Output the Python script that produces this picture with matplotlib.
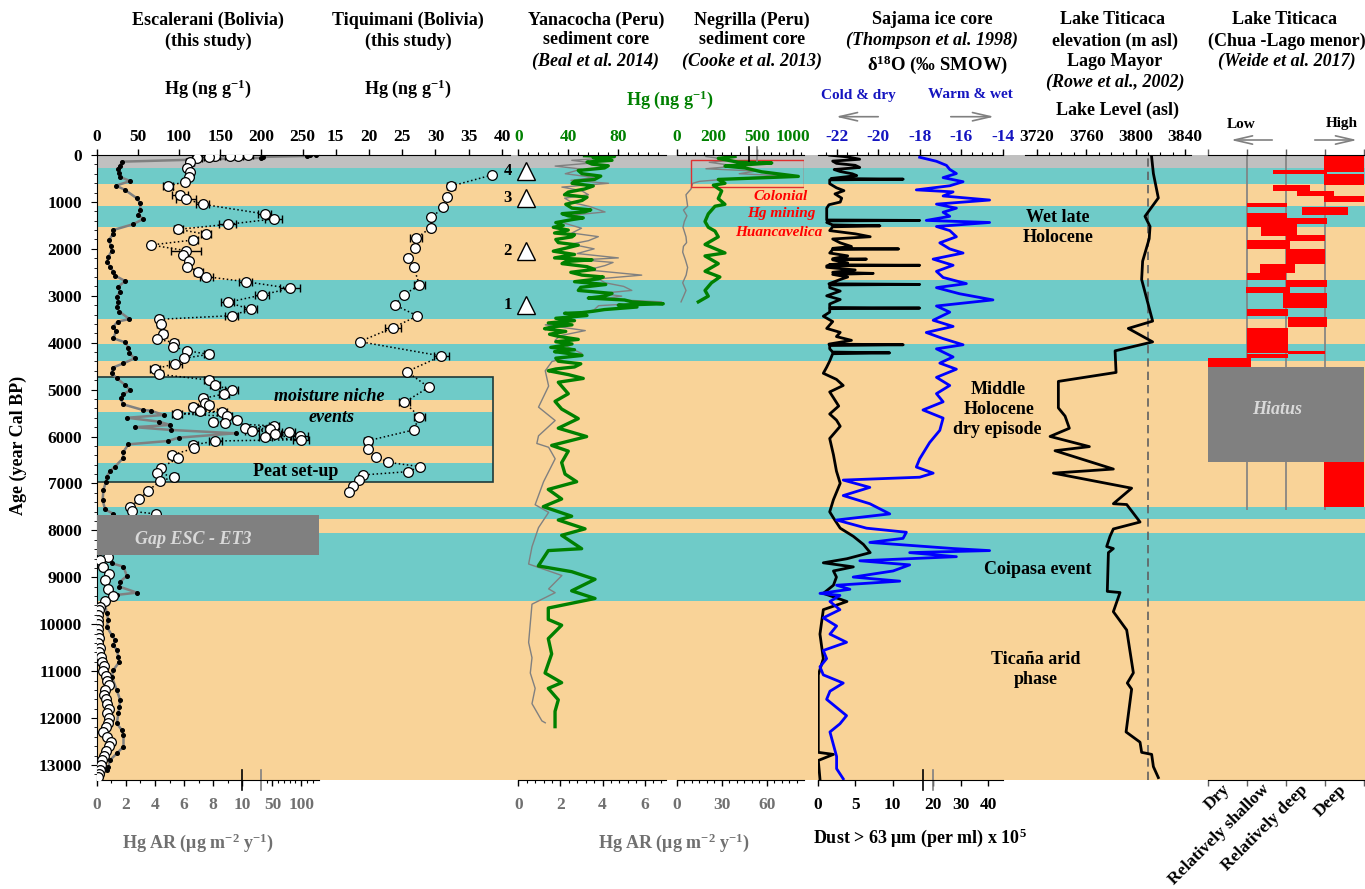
import matplotlib
matplotlib.use('Agg')
import matplotlib.pyplot as plt
import numpy as np
from matplotlib.patches import Rectangle, FancyArrowPatch
from matplotlib.ticker import MultipleLocator, FixedLocator

plt.rcParams['font.family'] = ['Liberation Serif', 'DejaVu Serif']
plt.rcParams['font.weight'] = 'bold'
plt.rcParams['mathtext.fontset'] = 'custom'
plt.rcParams['mathtext.rm'] = 'Liberation Serif:bold'
plt.rcParams['mathtext.it'] = 'Liberation Serif:bold:italic'
plt.rcParams['mathtext.bf'] = 'Liberation Serif:bold'
plt.rcParams['axes.unicode_minus'] = False

# ---------------- data ----------------
# background climate bands (cal BP)
gray_band = (0, 280)
teal_start = [280, 1090, 2660, 4030, 7500, 8060]
teal_end = [620, 1530, 3500, 4390, 7760, 9510]
box_top, box_bot = 4730, 6976
box_teal_start = [4730, 5484, 6558]
box_teal_end = [5220, 6202, 6976]
gap_top, gap_bot = 7670, 8525

# Escalerani Hg concentration (ng/g)
esc_age = [10, 16, 16, 16, 36, 71, 142, 270, 355, 462, 568, 661, 852, 938, 1051, 1257, 1364, 1477, 1584, 1690,
           1811, 1918, 2039, 2131, 2259, 2380, 2486, 2593, 2700, 2841, 2983, 3140, 3289, 3424, 3502, 3609, 3808,
           3921, 4000, 4085, 4170, 4248, 4333, 4447, 4560, 4674, 4795, 4908, 5008, 5093, 5185, 5278, 5320, 5363,
           5449, 5477, 5512, 5569, 5654, 5697, 5718, 5775, 5811, 5839, 5882, 5910, 5953, 5981, 6017, 6067, 6095,
           6180, 6251, 6393, 6464, 6663, 6770, 6862, 6947, 7153, 7338, 7508, 7593, 7650]
esc_hg = [184, 172, 162, 144, 136, 122, 113.5, 109.5, 113.5, 111.5, 107.4, 87, 101, 108.6, 129, 204, 215, 159,
          99.3, 133, 117.5, 66, 108.6, 104.6, 111.5, 110.2, 123.6, 133, 181, 235, 200.7, 159, 187, 164, 76.2, 77.8,
          81, 73, 94.4, 93.2, 109.5, 135.8, 106.6, 95.3, 71, 76.2, 135.8, 143.9, 164, 154.9, 129.7, 131.8, 135.8,
          117.5, 125.7, 152, 97.3, 158, 170, 141.8, 156, 215, 180.4, 210.8, 188.6, 233, 216, 246.5, 204.7, 248,
          143.9, 117.5, 118.3, 91.2, 98.5, 78.2, 73.7, 94.4, 77, 62.8, 51.8, 40.5, 42.6, 72.1]
esc_err = [6, 6, 6, 6, 6, 6, 5, 0, 0, 0, 0, 6, 10, 12, 8, 8, 10, 10, 6, 6, 6, 0, 18, 0, 0, 0, 6, 8, 8, 12,
           8, 8, 8, 8, 4, 4, 4, 0, 4, 0, 0, 6, 0, 8, 6, 4, 6, 6, 8, 6, 4, 4, 6, 6, 6, 6, 6, 6, 4, 4,
           4, 6, 4, 6, 8, 8, 8, 10, 8, 10, 8, 6, 4, 4, 4, 4, 4, 4, 4, 0, 0, 0, 0, 4]
esc_age2 = [8574, 8631, 8773, 8929, 9057, 9256, 9398, 9497, 9625, 9700, 9800, 9900, 10000, 10100, 10200, 10300,
            10400, 10500, 10600, 10700, 10800, 10900, 11000, 11100, 11200, 11300, 11400, 11500, 11600, 11700,
            11800, 11900, 12000, 12100, 12200, 12300, 12400, 12500, 12600, 12700, 12800, 12900, 13000, 13100,
            13200, 13250]
esc_hg2 = [14.1, 4, 8, 15.3, 10.1, 14.1, 20.2, 10.1, 4, 3, 2, 1.5, 1, 1.5, 2, 3, 2, 4, 2.5, 5, 7, 9, 8, 11, 13,
           15, 10, 9, 11, 13, 15, 13, 15, 14, 11, 8, 13, 17, 15, 11, 9, 7, 5, 4, 3, 2]

# Escalerani Hg accumulation rate (ug m-2 y-1)
ar_age1 = [0, 10, 20, 40, 60, 142, 227, 298, 383, 469, 554, 653, 745, 923, 1030, 1172, 1279, 1364, 1477, 1598,
           1690, 1811, 1932, 2046, 2166, 2273, 2380, 2486, 2571, 2685, 2806, 2912, 3018, 3125, 3232, 3338, 3495,
           3552, 3658, 3751, 3907, 3992, 4106, 4227, 4333, 4440, 4532, 4653, 4759, 4901, 5008, 5100, 5185, 5313,
           5434, 5450, 5540, 5600, 5682, 5753, 5800, 5860, 5931, 6024, 6095, 6166, 6322, 6464, 6642, 6734, 6855,
           6962, 7139, 7352, 7551, 7650]
ar_val1 = [126, 115, 110, 34, 30, 1.72, 1.61, 1.45, 1.54, 1.61, 2.3, 1.33, 1.95, 2.76, 2.99, 2.99, 2.87, 3.2,
           2.48, 1.15, 1.1, 0.85, 0.96, 1.03, 0.8, 0.73, 0.92, 1.15, 1.26, 1.95, 1.49, 1.61, 1.38, 1.49, 1.38,
           1.56, 2.25, 1.43, 1.15, 1.33, 1.15, 1.95, 2.18, 2.25, 2.6, 1.84, 1.1, 1.03, 1.38, 1.95, 2.3, 1.84,
           1.66, 1.8, 3.17, 3.72, 4.6, 2.1, 4.25, 5.06, 2.6, 5.1, 9.54, 5.63, 4.9, 2.18, 1.84, 1.8, 1.26, 0.92,
           0.69, 0.64, 0.46, 0.41, 0.57, 1.15]
ar_age2 = [8702, 8773, 8972, 9092, 9199, 9327, 9376, 9554, 9767, 9909, 10051, 10229, 10336, 10443, 10549, 10691,
           10798, 10976, 11118, 11402, 11615, 11757, 11900, 12113, 12255, 12362, 12610, 12753, 12895, 13037, 13108]
ar_val2 = [1.03, 1.84, 2.07, 1.61, 1.56, 2.76, 1.38, 0.57, 0.69, 0.8, 0.69, 1.03, 1.26, 1.15, 1.38, 1.49, 1.56,
           1.15, 1.03, 1.38, 1.61, 1.56, 1.49, 1.38, 1.72, 1.84, 1.84, 1.38, 0.92, 0.8, 0.69]

# Tiquimani Hg (ng/g)
tiq_age = [426, 661, 895, 1117, 1330, 1549, 1776, 1975, 2188, 2380, 2770, 2983, 3196, 3430, 3680, 3978, 4284,
           4617, 4951, 5271, 5576, 5860, 6088, 6273, 6429, 6550, 6642, 6748, 6820, 6926, 7054, 7175]
tiq_hg = [38.5, 32.4, 31.7, 31.2, 29.4, 29.3, 27.1, 26.9, 25.9, 26.7, 27.6, 25.2, 23.9, 27.3, 23.6, 18.6, 30.9,
          25.7, 29.0, 25.3, 27.6, 26.7, 19.9, 19.9, 21.1, 22.9, 27.7, 25.9, 19.05, 18.5, 17.55, 17.0]
tiq_err = [0, 0.6, 0, 0, 0, 0, 0.9, 0.4, 0, 0.3, 0.8, 0, 0, 0, 1.2, 0.3, 1.1, 0, 0, 0.8, 0.8, 0, 0.6, 0, 0, 0,
           0, 0.4, 0.3, 0, 0, 0]

# events 1-4
event_age = [3200, 2050, 910, 340]
event_lab = ['1', '2', '3', '4']

# Yanacocha (Beal et al. 2014)
yan_age = [15, 32, 60, 113, 150, 195, 230, 276, 330, 399,
           450, 521, 560, 603, 660, 725, 790, 847, 900, 969,
           1050, 1133, 1170, 1214, 1250, 1296, 1340, 1377, 1440, 1500,
           1540, 1600, 1663, 1700, 1744, 1800, 1867, 1920, 1973, 2050,
           2120, 2193, 2234, 2270, 2315, 2380, 2437, 2500, 2560, 2600,
           2641, 2700, 2760, 2820, 2886, 2950, 3008, 3049, 3090, 3130,
           3170, 3200, 3240, 3294, 3330, 3359, 3375, 3420, 3480, 3530,
           3579, 3620, 3660, 3701, 3760, 3820, 3865, 3930, 3980, 4028,
           4100, 4150, 4191, 4230, 4272, 4330, 4395, 4450, 4517, 4560,
           4598, 4680, 4762, 4843, 5088, 5251, 5414, 5618, 5822, 6001,
           6189, 6311, 6556, 6800, 6963, 7127, 7331, 7494, 7698, 7779,
           7967, 8105, 8390, 8431, 8758, 8880, 9043, 9288, 9451, 9655,
           9899, 10021, 10307, 10633, 11040, 11245, 11367, 11612, 11857, 12183]
yan_hg = [53, 77, 60, 75, 55, 59, 72, 69, 48, 51,
          66, 61, 45, 43, 60, 53, 40, 37, 55, 51,
          38, 43, 58, 53, 35, 40, 52, 43, 30, 36,
          28, 40, 29, 45, 43, 30, 32, 48, 40, 28,
          45, 29, 59, 38, 35, 55, 61, 42, 51, 68,
          64, 45, 70, 50, 48, 75, 69, 56, 85, 91,
          116, 80, 95, 69, 60, 51, 37, 55, 30, 45,
          24, 43, 28, 21, 38, 25, 32, 48, 30, 43,
          26, 45, 29, 40, 51, 30, 32, 50, 45, 30,
          24, 40, 52, 32, 40, 29.4, 34.7, 48, 32, 54.7,
          26.7, 40, 34.7, 37.4, 46.7, 24, 34.7, 20, 42.7, 32,
          53.4, 34.7, 50.7, 24, 16, 42.7, 61.4, 42.7, 61.4, 24,
          24, 34.7, 24, 26.7, 21.4, 34.7, 24, 32, 29.4, 29.4]
yan_ar_age = [72, 113, 170, 236, 300, 399, 480, 540, 603, 684,
              760, 847, 920, 1010, 1100, 1214, 1280, 1336, 1400, 1459,
              1560, 1663, 1740, 1826, 1900, 2000, 2100, 2193, 2234, 2290,
              2356, 2450, 2560, 2640, 2723, 2800, 2886, 2950, 3008, 3070,
              3130, 3212, 3300, 3375, 3450, 3540, 3620, 3742, 3850, 3946,
              4100, 4231, 4400, 4598, 4925, 5373, 5659, 5985, 6148, 6229,
              6474, 6963, 7453, 7616, 7942, 8350, 8717, 8962, 9247, 9328,
              9573, 9981, 10389, 10715, 11040, 11367, 11693, 12060, 12101]
yan_ar = [3.96, 2.54, 3.5, 1.75, 3.0, 2.23, 3.6, 2.5, 4.28, 2.07,
          3.0, 3.33, 2.2, 2.54, 3.4, 4.12, 2.6, 3.02, 2.1, 2.23,
          3.0, 2.54, 3.8, 3.33, 2.5, 3.6, 2.8, 4.75, 3.02, 4.5,
          4.12, 3.3, 5.86, 3.8, 4.12, 5.0, 5.39, 3.9, 4.91, 4.0,
          6.81, 3.81, 3.6, 3.02, 2.2, 2.6, 1.28, 3.18, 2.0, 1.75,
          2.4, 3.02, 1.6, 1.28, 1.44, 0.96, 1.75, 0.96, 0.88, 1.44,
          1.75, 1.2, 0.8, 1.44, 0.96, 0.65, 0.49, 2.07, 1.44, 1.75,
          0.65, 0.57, 0.49, 0.65, 0.57, 0.8, 0.65, 1.12, 1.28]

# Negrilla (Cooke et al. 2013)
neg_age = [32, 72, 154, 170, 236, 276, 358, 456, 521, 603, 643, 766, 929, 1051, 1092, 1255, 1418, 1540, 1622,
           1744, 1907, 2087, 2152, 2315, 2478, 2600, 2723, 2886, 3008, 3130]
neg_hg = [321, 229, 339, 705, 266, 376, 568, 1068, 229, 266, 202, 248, 229, 266, 211, 174, 156, 174, 211, 229,
          156, 266, 156, 229, 156, 238, 192, 156, 174, 119]
neg_ar_age = [32, 113, 154, 236, 293, 342, 399, 439, 521, 562, 603, 725, 847, 1092, 1173, 1296, 1418, 1540, 1744,
              1867, 1947, 2070, 2234, 2397, 2560, 2723, 2886, 3008, 3130]
neg_ar = [19.5, 37.3, 21.7, 39.5, 19.5, 52.9, 41.7, 68.4, 30.7, 15.1, 10.7, 9.5, 6.2, 7.3, 4.5, 6.8, 5.1, 4.2,
          6.2, 6.6, 4.5, 4.0, 5.8, 7.3, 6.3, 4.0, 6.2, 4.6, 2.9]
colonial_box = (113, 682)

# Sajama ice core (Thompson et al. 1998)
dust_age = [4, 40, 91, 130, 178, 220, 265, 310, 352, 400,
            439, 500, 515, 530, 612, 699, 760, 829, 920, 1003,
            1060, 1133, 1264, 1385, 1394, 1405, 1438, 1490, 1510, 1530,
            1611, 1680, 1742, 1790, 1872, 1950, 1990, 2002, 2015, 2089,
            2150, 2210, 2219, 2235, 2300, 2340, 2350, 2362, 2393, 2450,
            2500, 2523, 2545, 2600, 2654, 2745, 2758, 2770, 2827, 2900,
            3001, 3080, 3175, 3250, 3262, 3275, 3349, 3436, 3550, 3696,
            3780, 3870, 3950, 4030, 4044, 4060, 4131, 4200, 4217, 4235,
            4391, 4521, 4652, 4782, 4912, 5050, 5173, 5350, 5520, 5650,
            5781, 6042, 6389, 6737, 6997, 7345, 7605, 7735, 7953, 8127,
            8300, 8474, 8604, 8691, 8778, 8865, 8995, 9169, 9343, 9516,
            9690, 10211, 10733, 11080, 11514, 11949, 12383, 12731, 12774, 12904,
            13295]
dust = [1.6, 4.0, 5.6, 2.0, 2.5, 5.0, 5.6, 2.2, 3.0, 4.6,
        5.2, 1.8, 11.4, 1.6, 1.6, 2.5, 3.5, 2.3, 3.2, 3.0,
        1.5, 1.2, 1.2, 1.2, 13.6, 1.5, 1.2, 2.0, 8.3, 2.0,
        1.6, 5.0, 7.0, 2.0, 3.0, 4.5, 2.0, 10.8, 2.0, 1.6,
        4.0, 2.0, 6.5, 2.0, 4.0, 1.5, 13.6, 1.2, 1.2, 5.0,
        2.0, 7.4, 2.0, 4.0, 3.0, 1.5, 13.6, 1.6, 1.6, 3.0,
        1.2, 3.0, 1.6, 1.6, 13.6, 1.6, 1.6, 0.75, 2.0, 1.2,
        3.0, 2.5, 4.5, 1.5, 11.4, 1.6, 1.6, 2.0, 9.6, 2.0,
        1.6, 1.2, 0.75, 2.5, 3.4, 1.6, 2.1, 2.8, 1.6, 2.5,
        3.0, 1.6, 2.1, 2.5, 3.0, 2.1, 1.6, 2.1, 3.0, 4.75,
        6.1, 7.0, 3.9, 0.75, 4.75, 2.1, 2.5, 2.1, 0.75, 3.9,
        0.75, 0.3, 0.75, 0.08, 0.08, 0.08, 0.08, 0.08, 2.1, 0.08,
        0.3]
d18_age = [48, 134, 221, 308, 395, 482, 569, 656, 743, 786, 873, 960, 1047, 1133, 1220, 1307, 1394, 1438, 1524,
           1611, 1742, 1872, 2002, 2089, 2219, 2350, 2480, 2610, 2741, 2827, 2958, 3088, 3218, 3349, 3522, 3653,
           3783, 3913, 4044, 4131, 4304, 4435, 4565, 4739, 4912, 5086, 5260, 5434, 5607, 5868, 6129, 6476, 6650,
           6780, 6867, 6928, 7084, 7258, 7432, 7649, 7779, 7953, 8040, 8170, 8257, 8387, 8431, 8474, 8561, 8648,
           8735, 8865, 8995, 9082, 9169, 9256, 9343, 9386, 9516, 9690, 9864, 10038, 10211, 10385, 10559, 10733,
           10907, 11080, 11254, 11428, 11601, 11775, 11949, 12123, 12296, 12557, 12818, 13079, 13295]
d18 = [-18.0, -17.19, -16.71, -16.55, -16.23, -16.87, -15.91, -16.55, -18.16, -16.39, -16.87, -14.63, -17.19,
       -16.23, -16.87, -16.55, -17.68, -14.63, -17.19, -16.55, -16.23, -17.03, -16.55, -15.91, -17.35, -16.39,
       -17.19, -16.87, -15.75, -17.19, -16.07, -14.47, -17.19, -16.55, -17.35, -16.39, -17.68, -16.87, -15.91,
       -17.19, -16.39, -17.03, -16.23, -17.19, -16.55, -17.19, -16.87, -17.84, -16.87, -17.03, -17.52, -18.0,
       -18.16, -17.35, -18.0, -21.68, -20.4, -21.68, -20.4, -19.44, -22.0, -20.56, -18.64, -18.8, -20.4, -16.39,
       -14.63, -18.48, -16.23, -20.88, -18.48, -19.28, -21.2, -18.96, -22.0, -21.36, -22.8, -21.84, -22.32,
       -21.84, -22.64, -22.0, -22.32, -21.52, -22.64, -22.48, -22.8, -22.64, -21.68, -22.32, -22.48, -22.0,
       -21.52, -21.84, -22.32, -22.16, -22.0, -22.0, -21.68]

# Lake Titicaca level (Rowe et al. 2002)
lake_age = [48, 395, 916, 1307, 1524, 1785, 2263, 2654, 3540, 3696, 3983, 4174, 4634, 4825, 5390, 5564, 5824,
            5998, 6215, 6302, 6693, 6780, 7101, 7432, 7449, 7822, 7970, 8127, 8344, 8388, 8474, 9300, 9325, 9733,
            10124, 11037, 11254, 11384, 12296, 12514, 12731, 12774, 13035, 13269]
lake_lvl = [3813.0, 3814.4, 3818.4, 3807.6, 3811.7, 3811.0, 3805.7, 3804.9, 3813.8, 3794.1, 3813.8, 3783.4,
            3784.2, 3737.5, 3737.5, 3742.9, 3746.4, 3730.8, 3762.6, 3734.8, 3782.0, 3733.5, 3796.8, 3782.0,
            3792.8, 3803.6, 3782.0, 3779.3, 3776.6, 3782.0, 3778.0, 3777.1, 3787.4, 3782.0, 3792.8, 3798.2,
            3793.3, 3796.8, 3792.3, 3803.6, 3804.9, 3813.0, 3814.4, 3818.4]
lake_modern = 3810

# Lake Titicaca Chua (Weide et al. 2017)
weide_classes = ['Dry', 'Relatively shallow', 'Relatively deep', 'Deep']
w_top = [0, 326, 412, 630, 769, 873, 1020, 1107, 1246, 1351, 1464, 1524, 1698, 1803, 2002, 2324, 2506, 2654,
         2810, 2932, 3288, 3453, 3679, 4183, 4235, 4322, 6546]
w_bot = [352, 412, 630, 769, 873, 1003, 1116, 1281, 1351, 1464, 1524, 1716, 1829, 2002, 2324, 2506, 2654, 2810,
         2932, 3262, 3436, 3661, 4217, 4235, 4322, 4521, 7501]
w_left = [2.98, 1.67, 2.98, 1.67, 2.29, 2.98, 1.0, 2.42, 1.0, 1.0, 1.0, 1.36, 2.0, 1.0, 2.0, 1.33, 1.0, 2.0,
          0.97, 1.92, 1.0, 2.06, 1.0, 2.06, 1.0, 0.0, 2.98]
w_right = [4.0, 3.04, 4.0, 2.62, 3.23, 4.0, 2.02, 3.58, 2.02, 3.04, 2.27, 2.27, 3.0, 2.1, 3.0, 2.24, 2.0, 3.04,
           2.1, 3.04, 2.06, 3.04, 2.06, 3.0, 2.06, 1.1, 4.0]
w_lines_end = 7560
hiatus = (4521, 6546)

# ---------------- style ----------------
ORANGE = '#F9D398'
TEAL = '#6FCBC8'
GRAYBAND = '#C0C0C0'
DARKGRAY = '#808080'
GREEN = '#008000'
BLUE = '#0000FF'
BLUETXT = '#1515C0'
TXTGRAY = '#707070'
FS_HEAD = 13
FS_TICK = 12.5

W, H = 1365, 889
Y_TOP, Y_BOT = 155, 780
AGE_MAX = 13320

fig = plt.figure(figsize=(W / 100, H / 100), dpi=100)


def fx(px):
    return px / W


def fy(py):
    return 1 - py / H


def panel(x0, x1):
    ax = fig.add_axes([fx(x0), fy(Y_BOT), (x1 - x0) / W, (Y_BOT - Y_TOP) / H])
    ax.set_facecolor('none')
    ax.set_ylim(AGE_MAX, 0)
    for s in ax.spines.values():
        s.set_visible(False)
    ax.tick_params(axis='y', which='both', left=False, labelleft=False)
    ax.tick_params(axis='x', which='both', bottom=False, labelbottom=False, top=False, labeltop=False)
    return ax


def top_axis(ax, color='black'):
    ax.spines['top'].set_visible(True)
    ax.tick_params(axis='x', which='both', top=True, labeltop=True, direction='out',
                   labelcolor=color, labelsize=FS_TICK, pad=3)
    ax.tick_params(axis='x', which='major', length=4.5, width=1)
    ax.tick_params(axis='x', which='minor', length=2.5, width=0.8)


def bottom_axis(ax, color='black'):
    ax.spines['bottom'].set_visible(True)
    ax.tick_params(axis='x', which='both', bottom=True, labelbottom=True, direction='out',
                   labelcolor=color, labelsize=FS_TICK, pad=8)
    ax.tick_params(axis='x', which='major', length=4.5, width=1)
    ax.tick_params(axis='x', which='minor', length=2.5, width=0.8)


def broken_scale(ax, vals, pxs):
    vals = np.asarray(vals, float)
    pxs = np.asarray(pxs, float)
    ax.set_xscale('function', functions=(lambda v: np.interp(v, vals, pxs),
                                         lambda p: np.interp(p, pxs, vals)))


def break_mark(ax, v, y0, y1, color):
    ax.plot([v, v], [y0, y1], color=color, lw=1.2, transform=ax.get_xaxis_transform(), clip_on=False)


def ftext(x, y, s, **kw):
    kw.setdefault('fontsize', FS_HEAD)
    kw.setdefault('ha', 'center')
    kw.setdefault('va', 'center')
    fig.text(fx(x), fy(y), s, **kw)


def farrow(x0, x1, y):
    fig.add_artist(FancyArrowPatch(
        (fx(x0), fy(y)), (fx(x1), fy(y)), transform=fig.transFigure,
        arrowstyle='->,head_length=1.3,head_width=0.3', mutation_scale=10, color=DARKGRAY, lw=1.2))


# ---------------- background bands ----------------
ax_bg = panel(96.7, 1365)
ax_bg.set_xlim(0, 1)
BOX_W = (493 - 96.7) / (1365 - 96.7)
ax_bg.axhspan(0, AGE_MAX, color=ORANGE, lw=0)
ax_bg.axhspan(gray_band[0], gray_band[1], color=GRAYBAND, lw=0)
for a, b in zip(teal_start, teal_end):
    ax_bg.axhspan(a, b, color=TEAL, lw=0)
for a, b in zip(box_teal_start, box_teal_end):
    ax_bg.axhspan(a, b, xmin=0, xmax=BOX_W, color=TEAL, lw=0)
ax_bg.add_patch(Rectangle((0, box_top), BOX_W, box_bot - box_top, fill=False, ec='#1f3a3a', lw=1.2))

# ---------------- Escalerani ----------------
ax_esc_ar = panel(96.7, 319)
broken_scale(ax_esc_ar, [0, 10, 30, 131], [0, 145.6, 164.3, 222.3])
ax_esc_ar.set_xlim(0, 131)
bottom_axis(ax_esc_ar, TXTGRAY)
ax_esc_ar.xaxis.set_major_locator(FixedLocator([0, 2, 4, 6, 8, 10, 50, 100]))
ax_esc_ar.xaxis.set_minor_locator(FixedLocator([1, 3, 5, 7, 9, 40, 60, 70, 80, 90, 110, 120]))
ax_esc_ar.plot(ar_val1, ar_age1, '-', color=DARKGRAY, lw=1.8, marker='o', ms=2.6, mfc='black', mec='black')
ax_esc_ar.plot(ar_val2, ar_age2, '-', color=DARKGRAY, lw=1.8, marker='o', ms=2.6, mfc='black', mec='black')
break_mark(ax_esc_ar, 10, -0.016, 0.016, 'black')
break_mark(ax_esc_ar, 30, -0.016, 0.016, DARKGRAY)

ax_esc = panel(96.7, 319)
ax_esc.set_xlim(0, 270)
top_axis(ax_esc)
ax_esc.set_xticks([0, 50, 100, 150, 200, 250])
ax_esc.spines['left'].set_visible(True)
ax_esc.tick_params(axis='y', which='both', left=True, labelleft=True, direction='out', labelsize=FS_TICK, pad=6)
ax_esc.tick_params(axis='y', which='major', length=4.5)
ax_esc.tick_params(axis='y', which='minor', length=2.5)
ax_esc.set_yticks(np.arange(0, 13001, 1000))
ax_esc.yaxis.set_minor_locator(MultipleLocator(200))

e_age = np.array(esc_age)
e_hg = np.array(esc_hg)
e_err = np.array(esc_err, float)
m = e_err > 0
ax_esc.plot(e_hg, e_age, ':', color='black', lw=1.1, zorder=2)
ax_esc.errorbar(e_hg[m], e_age[m], xerr=e_err[m], fmt='none', ecolor='black', elinewidth=1, capsize=3, zorder=3)
ax_esc.plot(e_hg, e_age, 'o', ms=7, mfc='white', mec='black', mew=0.9, zorder=4)
ax_esc.plot(esc_hg2, esc_age2, ':', color='black', lw=1.1, zorder=2)
ax_esc.plot(esc_hg2, esc_age2, 'o', ms=7, mfc='white', mec='black', mew=0.9, zorder=4)
ax_esc.add_patch(Rectangle((0, gap_top), 270, gap_bot - gap_top, fc=DARKGRAY, ec='none', zorder=6))

# ---------------- Tiquimani ----------------
ax_tiq = panel(319, 510)
ax_tiq.set_xlim(12.5, 41.2)
top_axis(ax_tiq)
ax_tiq.set_xticks([15, 20, 25, 30, 35, 40])
t_age = np.array(tiq_age)
t_hg = np.array(tiq_hg)
t_err = np.array(tiq_err)
mt = t_err > 0
ax_tiq.plot(t_hg, t_age, ':', color='black', lw=1.1, zorder=2)
ax_tiq.errorbar(t_hg[mt], t_age[mt], xerr=t_err[mt], fmt='none', ecolor='black', elinewidth=1, capsize=3, zorder=3)
ax_tiq.plot(t_hg, t_age, 'o', ms=7, mfc='white', mec='black', mew=0.9, zorder=4)

# ---------------- Yanacocha ----------------
ax_yan_ar = panel(518.3, 665.5)
ax_yan_ar.set_xlim(0, 6.99)
bottom_axis(ax_yan_ar, TXTGRAY)
ax_yan_ar.set_xticks([0, 2, 4, 6])
ax_yan_ar.xaxis.set_minor_locator(MultipleLocator(0.4))
ax_yan_ar.plot(yan_ar, yan_ar_age, '-', color=DARKGRAY, lw=1.0)

ax_yan = panel(518.3, 665.5)
ax_yan.set_xlim(0, 117.8)
top_axis(ax_yan, GREEN)
ax_yan.set_xticks([0, 40, 80])
ax_yan.xaxis.set_minor_locator(MultipleLocator(8))
ax_yan.plot(yan_hg, yan_age, '-', color=GREEN, lw=2.4)
ev_x = np.full(len(event_age), 6.0)
ax_yan.plot(ev_x, event_age, '^', ms=13, mfc='white', mec='black', mew=1, clip_on=False, zorder=5)
for a, lab in zip(event_age, event_lab):
    ax_yan.annotate(lab, (6.0, a), xytext=(-18, 0), textcoords='offset pixels', ha='center', va='center',
                    fontsize=12, annotation_clip=False)

# ---------------- Negrilla ----------------
ax_neg_ar = panel(676.7, 804)
ax_neg_ar.set_xlim(0, 84.9)
bottom_axis(ax_neg_ar, TXTGRAY)
ax_neg_ar.set_xticks([0, 30, 60])
ax_neg_ar.xaxis.set_minor_locator(MultipleLocator(5))
ax_neg_ar.plot(neg_ar, neg_ar_age, '-', color=DARKGRAY, lw=1.0)
ax_neg_ar.add_patch(Rectangle((9.5, colonial_box[0]), 75.3, colonial_box[1] - colonial_box[0],
                              fill=False, ec='#E03030', lw=1.0, zorder=5))

ax_neg = panel(676.7, 804)
broken_scale(ax_neg, [0, 400, 500, 1145], [0, 72.6, 80, 127.3])
ax_neg.set_xlim(0, 1145)
top_axis(ax_neg, GREEN)
ax_neg.xaxis.set_major_locator(FixedLocator([0, 200, 500, 1000]))
ax_neg.xaxis.set_minor_locator(FixedLocator([50, 100, 150, 250, 300, 350, 600, 700, 800, 900, 1100]))
ax_neg.plot(neg_hg, neg_age, '-', color=GREEN, lw=2.4)
break_mark(ax_neg, 400, 0.99, 1.013, 'black')
break_mark(ax_neg, 500, 0.99, 1.013, DARKGRAY)

# ---------------- Sajama ----------------
ax_dust = panel(817.7, 1002.7)
broken_scale(ax_dust, [0, 14, 20, 45.2], [0, 105, 115.6, 185])
ax_dust.set_xlim(0, 45.2)
bottom_axis(ax_dust)
ax_dust.xaxis.set_major_locator(FixedLocator([0, 5, 10, 20, 30, 40]))
ax_dust.plot(dust, dust_age, '-', color='black', lw=2.0)
break_mark(ax_dust, 14, -0.016, 0.016, 'black')
break_mark(ax_dust, 20, -0.016, 0.016, DARKGRAY)

ax_saj = panel(817.7, 1002.7)
ax_saj.set_xlim(-22.91, -14.02)
top_axis(ax_saj, BLUETXT)
ax_saj.set_xticks([-22, -20, -18, -16, -14])
ax_saj.xaxis.set_minor_locator(MultipleLocator(0.5))
ax_saj.plot(d18, d18_age, '-', color=BLUE, lw=2.0)

# ---------------- Lake Titicaca level ----------------
ax_lake = panel(1025, 1190.7)
ax_lake.set_xlim(3710.5, 3844.6)
top_axis(ax_lake)
ax_lake.set_xticks([3720, 3760, 3800, 3840])
ax_lake.xaxis.set_minor_locator(MultipleLocator(10))
ax_lake.axvline(lake_modern, color='#606060', ls=(0, (5, 3)), lw=1.2)
ax_lake.plot(lake_lvl, lake_age, '-', color='black', lw=2.0)

# ---------------- Weide ----------------
ax_w = panel(1208, 1364)
ax_w.set_xlim(0, 4)
ax_w.spines['top'].set_visible(True)
ax_w.spines['bottom'].set_visible(True)
ax_w.set_xticks([0, 1, 2, 3, 4])
ax_w.set_xticks([0.5, 1.5, 2.5, 3.5], weide_classes, minor=True)
ax_w.tick_params(axis='x', which='major', top=True, bottom=True, labeltop=False, labelbottom=False,
                 direction='out', length=4.5, width=1, color='#606060')
ax_w.tick_params(axis='x', which='minor', top=False, bottom=True, labelbottom=True, length=0,
                 labelsize=FS_TICK, pad=5)
for lab in ax_w.get_xticklabels(minor=True):
    lab.set_rotation(45)
    lab.set_ha('right')
    lab.set_va('center')
    lab.set_rotation_mode('anchor')
ax_w.vlines([1, 2, 3], 0, w_lines_end, color=DARKGRAY, lw=1.2, zorder=1)
wt = np.array(w_top)
wb = np.array(w_bot)
wl = np.array(w_left)
wr = np.array(w_right)
ax_w.barh(wt, wr - wl, height=wb - wt, left=wl, align='edge', color='#FF0000', lw=0, zorder=2)
ax_w.add_patch(Rectangle((0, hiatus[0]), 4, hiatus[1] - hiatus[0], fc=DARKGRAY, ec='none', zorder=3))

# ---------------- texts ----------------
ftext(208, 20, 'Escalerani (Bolivia)')
ftext(208, 41, '(this study)')
ftext(208, 89, 'Hg (ng g$^{-1}$)')
ftext(408, 20, 'Tiquimani (Bolivia)')
ftext(408, 41, '(this study)')
ftext(408, 89, 'Hg (ng g$^{-1}$)')
ftext(596, 20, 'Yanacocha (Peru)')
ftext(596, 40, 'sediment core')
ftext(596, 61, '(Beal et al. 2014)', style='italic')
ftext(752, 20, 'Negrilla (Peru)')
ftext(752, 40, 'sediment core')
ftext(752, 61, '(Cooke et al. 2013)', style='italic')
ftext(670, 100, 'Hg (ng g$^{-1}$)', color=GREEN)
ftext(932, 19, 'Sajama ice core')
ftext(932, 40, '(Thompson et al. 1998)', style='italic')
ftext(938, 65, 'δ$^{18}$O (‰ SMOW)', fontsize=13.5)
ftext(858, 95, 'Cold & dry', color=BLUETXT, fontsize=11)
ftext(970, 95, 'Warm & wet', color=BLUETXT, fontsize=11)
ftext(1113, 20, 'Lake Titicaca')
ftext(1115, 41, 'elevation (m asl)')
ftext(1115, 61, 'Lago Mayor')
ftext(1115, 82, '(Rowe et al., 2002)', style='italic')
ftext(1118, 110, 'Lake Level (asl)')
ftext(1284, 20, 'Lake Titicaca')
ftext(1287, 41, '(Chua -Lago menor)')
ftext(1287, 61, '(Weide et al. 2017)', style='italic')
ftext(1241, 124, 'Low', fontsize=11)
ftext(1342, 124, 'High', fontsize=11)
farrow(881, 833, 116.7)
farrow(948, 997, 116.7)
farrow(1275, 1228, 140)
farrow(1312, 1360, 140)

ftext(1058, 217, 'Wet late')
ftext(1058, 238, 'Holocene')
ftext(998, 389, 'Middle')
ftext(999, 409, 'Holocene')
ftext(997, 430, 'dry episode')
ftext(1038, 570, 'Coipasa event')
ftext(1036, 660, 'Ticaña arid')
ftext(1036, 680, 'phase')
ftext(329, 397, 'moisture niche', style='italic')
ftext(332, 418, 'events', style='italic')
ftext(296, 471, 'Peat set-up')
ftext(193, 539, 'Gap ESC - ET3', style='italic', color='#D9D9D9')
ftext(1277, 409, 'Hiatus', style='italic', color='#D9D9D9')
ftext(781, 196, 'Colonial', style='italic', color='#FF0000', fontsize=11)
ftext(781, 214, 'Hg mining', style='italic', color='#FF0000', fontsize=11)
ftext(779, 232, 'Huancavelica', style='italic', color='#FF0000', fontsize=11)

ftext(198, 843, 'Hg AR (μg m$^{-2}$ y$^{-1}$)', color=TXTGRAY)
ftext(674, 843, 'Hg AR (μg m$^{-2}$ y$^{-1}$)', color=TXTGRAY)
ftext(920, 838, 'Dust > 63 μm (per ml) x 10$^{5}$')
ftext(18, 445, 'Age (year Cal BP)', rotation=90)

fig.savefig('out.png', dpi=100)
